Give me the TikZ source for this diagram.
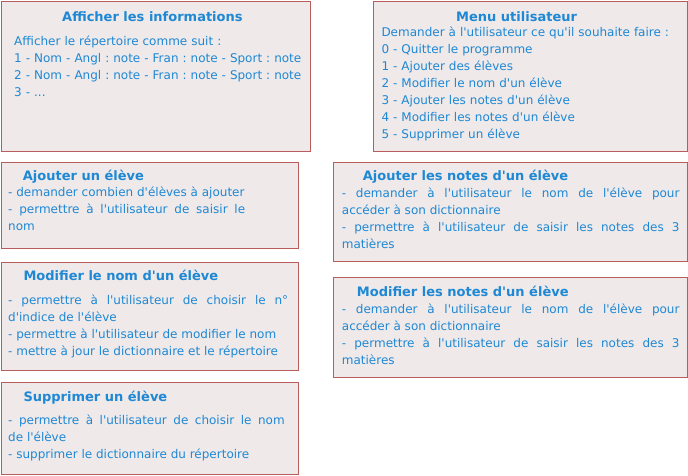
\documentclass[tikz,border=0pt]{standalone}
\usepackage{xcolor}
\usepackage{fontspec}
\setmainfont{DejaVu Sans}[Ligatures=TeXOff]
\definecolor{bleutexte}{HTML}{1E88D4}
\definecolor{fondboite}{HTML}{EFE9E9}
\definecolor{bordboite}{HTML}{B85C5C}
\hyphenpenalty=10000
\exhyphenpenalty=10000
\frenchspacing

\begin{document}
\begin{tikzpicture}[x=1pt,y=-1pt,
		boite/.style={draw=bordboite, fill=fondboite, line width=1pt, inner sep=0pt, minimum width=#1},
		titre/.style={anchor=base west, inner sep=0pt, text=bleutexte, font=\fontsize{13}{16}\selectfont\bfseries},
		texte/.style={anchor=base west, inner sep=0pt, text=bleutexte, font=\fontsize{12}{17}\selectfont, text width=#1, align=left},
		justifie/.style={texte=#1, align=justify}]
				\useasboundingbox (0,0) rectangle (688,475);

				\node[boite=309, minimum height=150] (afficher) at (155.5,76) {};
				\node[boite=313.5, minimum height=150] (menu) at (530.25,76) {};
				\node[boite=297.5, minimum height=86.5] (ajouter) at (149.75,205.25) {};
				\node[boite=297.5, minimum height=108] (modifnom) at (149.75,316.5) {};
				\node[boite=297.5, minimum height=91.5] (supprimer) at (149.75,428.25) {};
				\node[boite=354, minimum height=99.5] (ajnotes) at (510,211.75) {};
				\node[boite=354, minimum height=100] (modnotes) at (510,327.5) {};

				\node[titre] (afficher-titre) at (62,21) {Afficher les informations};
				\node[texte=340] (afficher-texte) at (14,45) {Afficher le répertoire comme suit :\\
					1 - Nom - Angl : note - Fran : note - Sport : note\\
					2 - Nom - Angl : note - Fran : note - Sport : note\\
					3 - ...};

				\node[titre] (menu-titre) at (456,21) {Menu utilisateur};
				\node[texte=300] (menu-texte) at (381.3,36.7) {Demander à l'utilisateur ce qu'il souhaite faire :\\
					0 - Quitter le programme\\
					1 - Ajouter des élèves\\
					2 - Modifier le nom d'un élève\\
					3 - Ajouter les notes d'un élève\\
					4 - Modifier les notes d'un élève\\
					5 - Supprimer un élève};

				\node[titre] (ajouter-titre) at (22.7,180) {Ajouter un élève};
				\node[justifie=237] (ajouter-texte) at (8,196.7) {- demander combien d'élèves à ajouter\\
					- permettre à l'utilisateur de saisir le\linebreak nom};

				\node[titre] (modifnom-titre) at (23.3,280) {Modifier le nom d'un élève};
				\node[justifie=280] (modifnom-texte) at (8,304) {- permettre à l'utilisateur de choisir le n°\linebreak d'indice de l'élève\\
					- permettre à l'utilisateur de modifier le nom\\
					- mettre à jour le dictionnaire et le répertoire};

				\node[titre] (supprimer-titre) at (23.3,401) {Supprimer un élève};
				\node[justifie=276.5] (supprimer-texte) at (8,424.3) {- permettre à l'utilisateur de choisir le nom\linebreak de l'élève\\
					- supprimer le dictionnaire du répertoire};

				\node[titre] (ajnotes-titre) at (362.7,180.7) {Ajouter les notes d'un élève};
				\node[justifie=337.6] (ajnotes-texte) at (341.7,197.3) {- demander à l'utilisateur le nom de l'élève pour\linebreak accéder à son dictionnaire\\
					- permettre à l'utilisateur de saisir les notes des 3\linebreak matières};

				\node[titre] (modnotes-titre) at (356.7,296) {Modifier les notes d'un élève};
				\node[justifie=337.6] (modnotes-texte) at (341.7,313) {- demander à l'utilisateur le nom de l'élève pour\linebreak accéder à son dictionnaire\\
					- permettre à l'utilisateur de saisir les notes des 3\linebreak matières};
			\end{tikzpicture}
\end{document}
